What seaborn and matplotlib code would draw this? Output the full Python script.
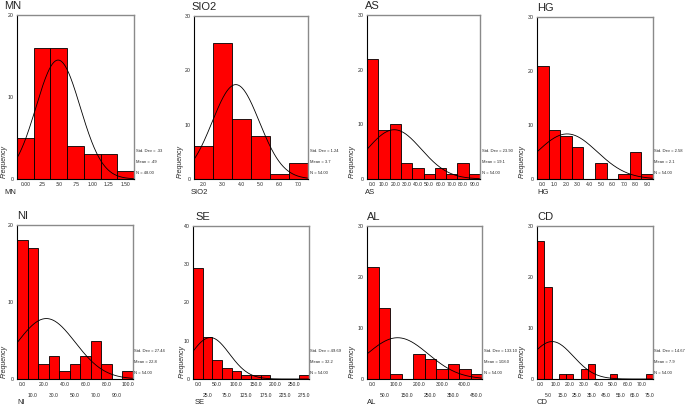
import numpy as np
import pandas as pd
import matplotlib
matplotlib.use("Agg")
import matplotlib.pyplot as plt
import seaborn as sns

# ---------------- DATOS ---------------- #
mn_counts = [5, 16, 16, 4, 3, 3, 1]
mn_ticks = ["0.00", ".25", ".50", ".75", "1.00", "1.25", "1.50"]
mn_stats = [".33", ".49", "48.00"]

sio2_counts = [6, 25, 11, 8, 1, 3]
sio2_ticks = ["2.0", "3.0", "4.0", "5.0", "6.0", "7.0"]
sio2_stats = ["1.24", "3.7", "54.00"]

as_counts = [22, 9, 10, 3, 2, 1, 2, 1, 3, 1]
as_ticks = ["0.0", "10.0", "20.0", "30.0", "40.0", "50.0", "60.0", "70.0", "80.0", "90.0"]
as_stats = ["23.90", "19.1", "54.00"]

hg_counts = [21, 9, 8, 6, 0, 3, 0, 1, 5, 1]
hg_ticks = ["0.0", "1.0", "2.0", "3.0", "4.0", "5.0", "6.0", "7.0", "8.0", "9.0"]
hg_stats = ["2.58", "2.1", "54.00"]

ni_counts = [18, 17, 2, 3, 1, 2, 3, 5, 2, 0, 1]
ni_ticks = ["0.0", "10.0", "20.0", "30.0", "40.0", "50.0", "60.0", "70.0", "80.0", "90.0", "100.0"]
ni_stats = ["27.44", "22.8", "54.00"]

se_counts = [29, 11, 5, 3, 2, 1, 1, 1, 0, 0, 0, 1]
se_ticks = ["0.0", "25.0", "50.0", "75.0", "100.0", "125.0", "150.0", "175.0", "200.0", "225.0", "250.0", "275.0"]
se_stats = ["49.69", "32.2", "54.00"]

al_counts = [22, 14, 1, 0, 5, 4, 2, 3, 2, 1]
al_ticks = ["0.0", "50.0", "100.0", "150.0", "200.0", "250.0", "300.0", "350.0", "400.0", "450.0"]
al_stats = ["133.10", "108.0", "54.00"]

cd_counts = [27, 18, 0, 1, 1, 0, 2, 3, 0, 0, 1, 0, 0, 0, 0, 1]
cd_ticks = ["0.0", "5.0", "10.0", "15.0", "20.0", "25.0", "30.0", "35.0", "40.0", "45.0",
            "50.0", "55.0", "60.0", "65.0", "70.0", "75.0"]
cd_stats = ["14.67", "7.9", "54.00"]

# ---------------- ESTILO ---------------- #
sns.set_theme(style="white")
plt.rcParams["font.family"] = ["Liberation Sans", "DejaVu Sans"]

W, H = 685, 409
fig = plt.figure(figsize=(6.85, 4.09), dpi=100)


def px_axes(left, top, right, bottom):
    return fig.add_axes([left / W, 1 - bottom / H, (right - left) / W, (bottom - top) / H])


def panel(name, counts, ticks, stats, start, width, ymax, box, title_x, ylab_x, stagger):
    left, top, right, bottom = box
    ax = px_axes(left, top, right, bottom)
    n_bins = len(counts)
    centers = start + width * np.arange(n_bins)
    edges = list(start - width / 2 + width * np.arange(n_bins + 1))
    df = pd.DataFrame({"x": centers, "w": counts})
    sns.histplot(data=df, x="x", weights="w", bins=edges, color="red", edgecolor="black",
                 linewidth=0.6, alpha=1, ax=ax)

    # curva normal con la media y la desviación del cuadro
    sd = float(stats[0])
    mean = float(stats[1])
    n = float(stats[2])
    xs = np.linspace(edges[0], edges[-1], 200)
    ys = n * width * np.exp(-0.5 * ((xs - mean) / sd) ** 2) / (sd * np.sqrt(2 * np.pi))
    sns.lineplot(x=xs, y=ys, color="black", linewidth=0.6, ax=ax)

    ax.set_xlim(edges[0], edges[-1])
    ax.set_ylim(0, ymax)
    ax.set_yticks(np.arange(0, ymax + 1, 10))
    ax.set_yticklabels([str(v) for v in range(0, ymax + 1, 10)], fontsize=3.8)
    if stagger:
        # etiquetas alternadas en dos filas (como SPSS)
        ax.set_xticks(centers[::2])
        ax.set_xticklabels(ticks[::2], fontsize=3.6)
        ax.set_xticks(centers[1::2], minor=True)
        ax.set_xticklabels(ticks[1::2], minor=True, fontsize=3.6)
        ax.tick_params(axis="x", which="minor", length=0, pad=10, labelsize=3.6)
    else:
        ax.set_xticks(centers)
        ax.set_xticklabels(ticks, fontsize=3.6)
    ax.tick_params(which="major", length=0, pad=2.5)
    ax.set_xlabel("")
    ax.set_ylabel("")
    for s in ["left", "bottom"]:
        ax.spines[s].set_color("black")
        ax.spines[s].set_linewidth(0.8)
    for s in ["top", "right"]:
        ax.spines[s].set_color("#8a8a8a")
        ax.spines[s].set_linewidth(1.0)

    # títulos estilo SPSS
    fig.text(title_x / W, 1 - (top - 9) / H, name, fontsize=8, va="center", ha="left")
    xlab_y = bottom + 14 if not stagger else bottom + 23
    fig.text(title_x / W, 1 - xlab_y / H, name, fontsize=5.5, va="center", ha="left")
    fig.text(ylab_x / W, 1 - (bottom - 1) / H, "Frequency", fontsize=5, rotation=90,
             va="bottom", ha="center", style="italic")

    # cuadro de estadísticas
    labs = ["Std. Dev = " + stats[0], "Mean = " + stats[1], "N = " + stats[2]]
    for k, lab in enumerate(labs):
        fig.text((right + 1.5) / W, 1 - (bottom - 28 + 11 * k) / H, lab, fontsize=3.0,
                 va="center", ha="left")
    return ax


panel("MN", mn_counts, mn_ticks, mn_stats, 0.0, 0.25, 20, (17, 15, 134, 179), 4, 4, False)
panel("SIO2", sio2_counts, sio2_ticks, sio2_stats, 2.0, 1.0, 30, (194, 16, 308, 179), 191, 180, False)
panel("AS", as_counts, as_ticks, as_stats, 0.0, 10.0, 30, (367, 15, 480, 179), 365, 352, False)
panel("HG", hg_counts, hg_ticks, hg_stats, 0.0, 1.0, 30, (537, 17, 653, 179), 537, 522, False)

panel("NI", ni_counts, ni_ticks, ni_stats, 0.0, 10.0, 20, (17, 225, 133, 379), 17, 4, True)
panel("SE", se_counts, se_ticks, se_stats, 0.0, 25.0, 40, (193, 226, 309, 379), 195, 182, True)
panel("AL", al_counts, al_ticks, al_stats, 0.0, 50.0, 30, (367, 226, 482, 379), 367, 352, True)
panel("CD", cd_counts, cd_ticks, cd_stats, 0.0, 5.0, 30, (537, 226, 653, 379), 537, 522, True)

fig.savefig("out.png", dpi=100)
